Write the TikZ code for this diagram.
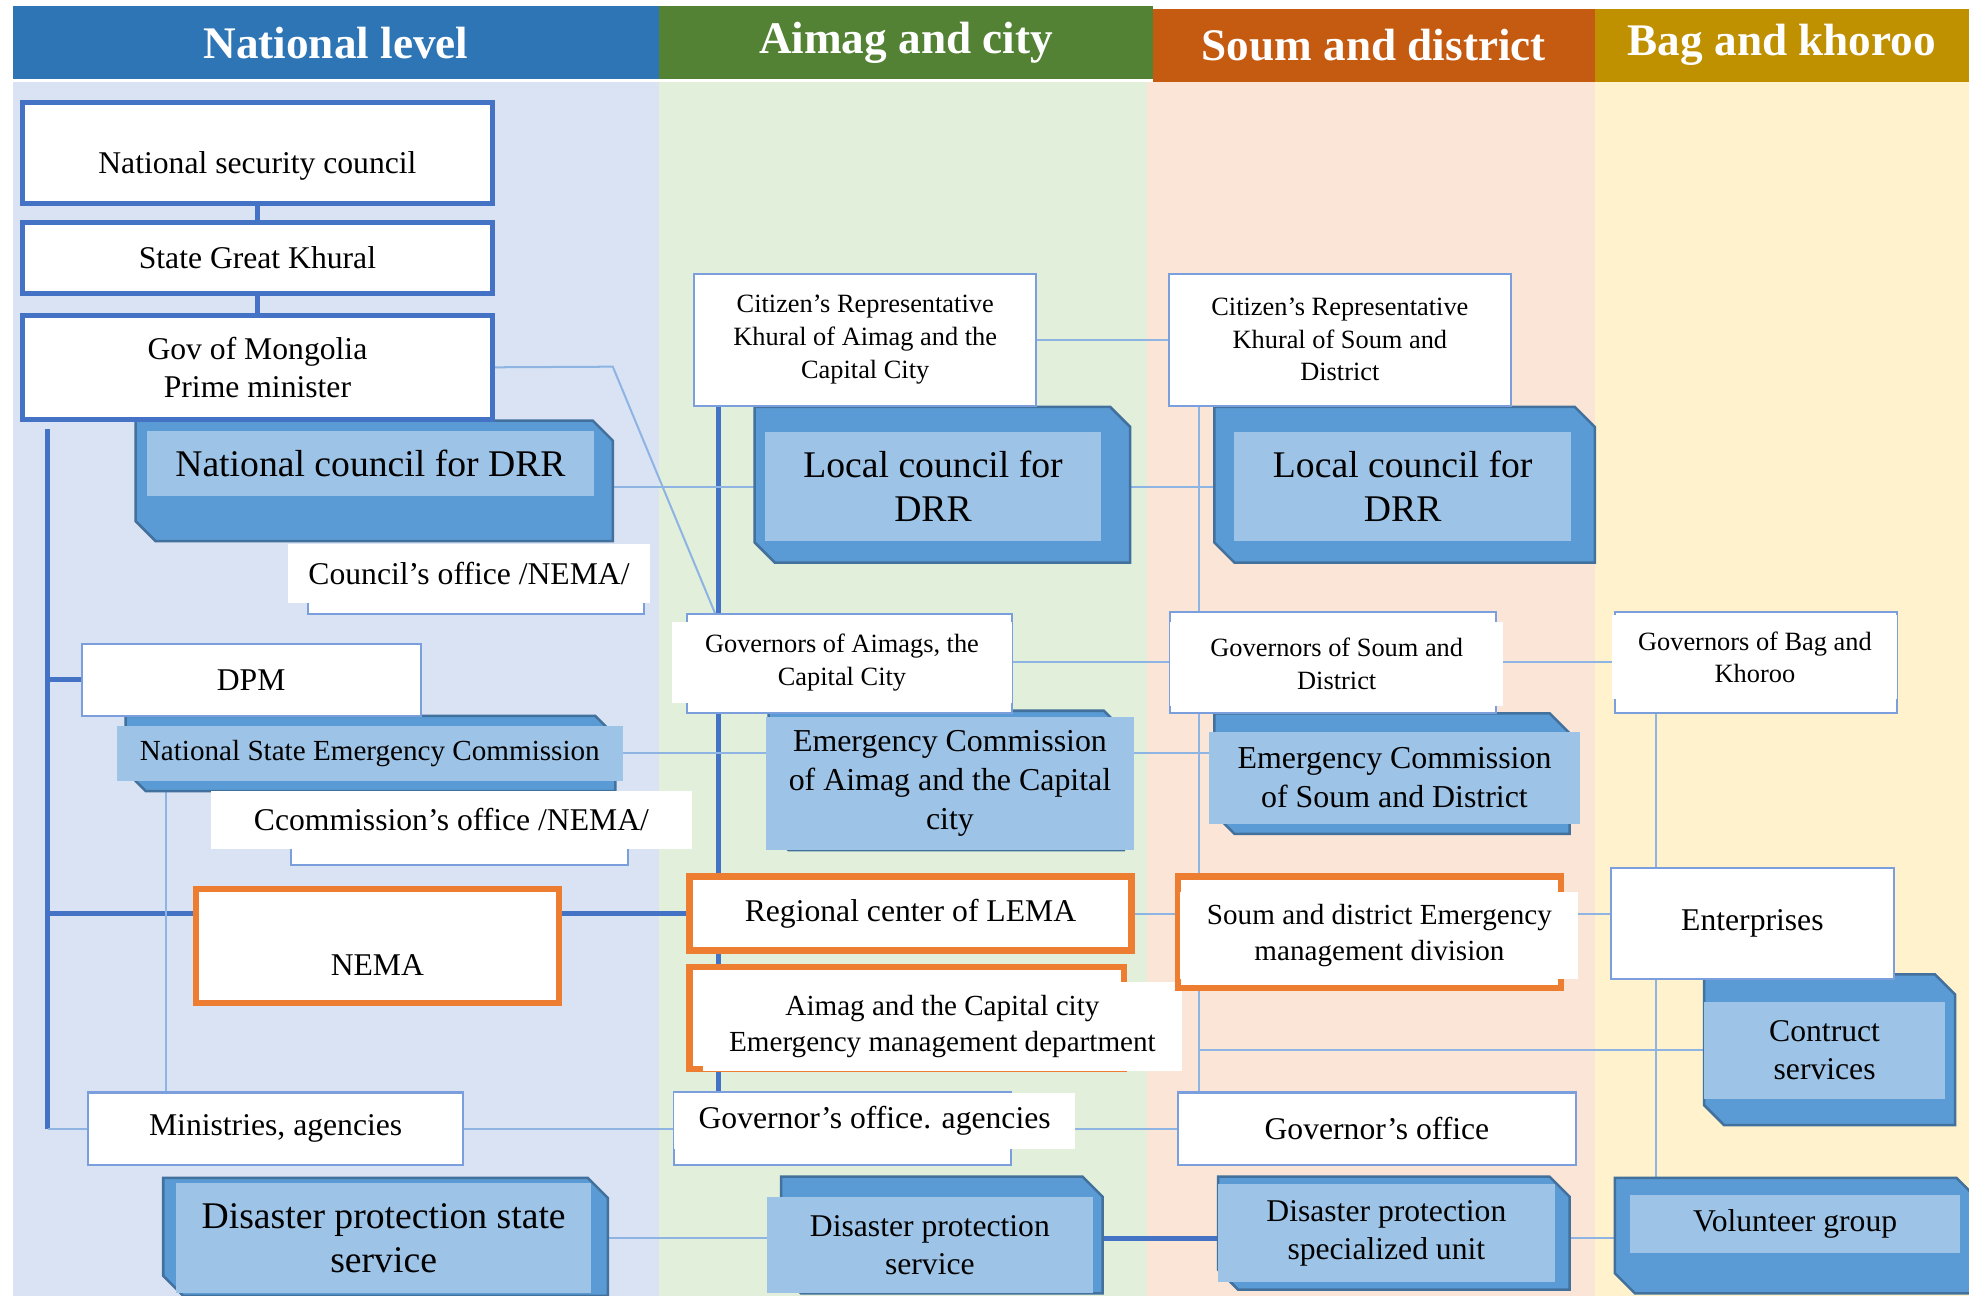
\documentclass[tikz,border=0pt]{standalone}
\usepackage{fontspec}
\setmainfont{Liberation Serif}

\definecolor{hdNat}{HTML}{2E75B6}
\definecolor{hdAim}{HTML}{548235}
\definecolor{hdSou}{HTML}{C55A11}
\definecolor{hdBag}{HTML}{BF9000}
\definecolor{bgNat}{HTML}{DAE3F3}
\definecolor{bgAim}{HTML}{E2EFDA}
\definecolor{bgSou}{HTML}{FBE5D6}
\definecolor{bgBag}{HTML}{FFF2CC}
\definecolor{frameBlue}{HTML}{4472C4}
\definecolor{lineBlue}{HTML}{8EB4E3}
\definecolor{thinFrame}{HTML}{7A9FDC}
\definecolor{orangeFrame}{HTML}{ED7D31}
\definecolor{plateBlue}{HTML}{5B9BD5}
\definecolor{plateEdge}{HTML}{41719C}
\definecolor{innerBlue}{HTML}{9DC3E6}

\newcommand{\fsmall}{\fontsize{10.5}{13}\selectfont}
\newcommand{\fmain}{\fontsize{12.6}{15}\selectfont}
\newcommand{\fmid}{\fontsize{11.6}{14}\selectfont}
\newcommand{\fec}{\fontsize{12.7}{15.5}\selectfont}
\newcommand{\fbig}{\fontsize{15}{17.5}\selectfont}
\newcommand{\fhead}{\fontsize{18}{20}\selectfont\bfseries}

% dark chamfered plate behind a light box
\newcommand{\backplate}[4]{\draw[plate] (#1,#2) -- ({#3-16},#2) -- (#3,{#2+16}) -- (#3,#4) -- ({#1+16},#4) -- (#1,{#4-16}) -- cycle;}

\pgfdeclarelayer{cols}
\pgfdeclarelayer{links}
\pgfsetlayers{cols,links,main}

\tikzset{
  sz/.style 2 args={minimum width={#1*0.5pt},minimum height={#2*0.5pt}},
  hdr/.style={text=white, font=\fhead, inner sep=0pt},
  bigframe/.style={draw=frameBlue, line width=2pt, fill=white, align=center, font=\fmain, inner sep=2pt},
  thinframe/.style={draw=thinFrame, line width=0.8pt, fill=white},
  thinbox/.style={thinframe, align=center, font=\fmain, inner sep=2pt},
  orframe/.style={draw=orangeFrame, line width=2.5pt, fill=white},
  orbox/.style={orframe, align=center, font=\fmain, inner sep=2pt},
  panel/.style={fill=white, align=center, inner sep=2pt},
  plate/.style={fill=plateBlue, draw=plateEdge, line width=1pt},
  lightbox/.style={fill=innerBlue, align=center, inner sep=2pt},
  thk/.style={draw=frameBlue, line width=2pt},
  thn/.style={draw=lineBlue, line width=0.8pt},
}

\begin{document}
\begin{tikzpicture}[x=0.5pt,y=-0.5pt]
  \useasboundingbox (0,0) rectangle (1568,1032);

  % columns and headers
  \begin{pgfonlayer}{cols}
    \fill[bgNat] (10,65) rectangle (525,1032);
    \fill[bgAim] (525,65) rectangle (913,1032);
    \fill[bgSou] (913,65) rectangle (1270,1032);
    \fill[bgBag] (1270,65) rectangle (1568,1032);
    \node[hdr, fill=hdNat, sz={515}{58}] (hnat) at (267.5,34) {National level};
    \node[hdr, fill=hdAim, sz={393}{58}] (haim) at (721.5,34) {Aimag and city};
    \node[hdr, fill=hdSou, sz={352}{58}] (hsou) at (1094,36) {Soum and district};
    \node[hdr, fill=hdBag, sz={298}{58}] (hbag) at (1419,36) {Bag and khoroo};
  \end{pgfonlayer}

  % plates
  \backplate{108}{335}{488}{431}
  \backplate{100}{570}{490}{630}
  \backplate{130}{938}{484}{1032}
  \backplate{601}{324}{900}{448}
  \backplate{612}{566}{895}{677}
  \backplate{622}{937}{878}{1030}
  \backplate{967}{324}{1270}{448}
  \backplate{967}{568}{1250}{664}
  \backplate{970}{937}{1250}{1027}
  \backplate{1357}{776}{1557}{896}
  \backplate{1286}{938}{1574}{1030}

  % national level
  \node[bigframe, sz={374}{80}, text height=18.7pt] (nsc) at (205,122) {National security council};
  \node[bigframe, sz={374}{57}] (sgk) at (205,205.5) {State Great Khural};
  \node[bigframe, sz={374}{83}] (gov) at (205,292.5) {Gov of Mongolia\\Prime minister};
  \node[lightbox, font=\fbig, sz={356}{52}] (ncd) at (295,369) {National council for DRR};
  \draw[thinframe] (245,435) rectangle (513,489);
  \node[panel, font=\fmain, sz={289}{47}] (coff) at (373.5,456.5) {Council's office /NEMA/};
  \node[thinbox, sz={270}{57}] (dpm) at (200,541.5) {DPM};
  \node[lightbox, font=\fmid, sz={403}{44}] (nsec) at (294.5,600) {National State Emergency Commission};
  \draw[thinframe] (232,650) rectangle (500,689);
  \node[panel, font=\fmain, sz={383}{46}] (cmoff) at (359.5,653) {Ccommission's office /NEMA/};
  \node[orbox, sz={289}{91}, text height=23.7pt] (nema) at (300.5,753.5) {NEMA};
  \node[thinbox, sz={299}{58}] (min) at (219.5,899) {Ministries, agencies};
  \node[lightbox, font=\fbig, sz={331}{88}] (dpss) at (305.5,986) {Disaster protection state\\service};

  % aimag and city
  \node[thinbox, font=\fsmall, sz={272}{105}] (cra) at (689,270.5) {Citizen's Representative\\Khural of Aimag and the\\Capital City};
  \node[lightbox, font=\fbig, sz={268}{87}] (lca) at (743,387.5) {Local council for\\DRR};
  \draw[thinframe] (547,489) rectangle (806,568);
  \node[panel, font=\fsmall, sz={271}{65}] (gva) at (670.5,527.5) {Governors of Aimags, the\\Capital City};
  \node[lightbox, font=\fec, sz={293}{106}] (eca) at (756.5,624) {Emergency Commission\\of Aimag and the Capital\\city};
  \node[orbox, sz={352}{59}] (rcl) at (725,727.5) {Regional center of LEMA};
  \draw[orframe] (549,770) rectangle (895,851);
  \node[panel, font=\fmid, sz={381}{71}] (emd) at (750.5,817.5) {Aimag and the Capital city\\Emergency management department};
  \draw[thinframe] (537,870) rectangle (805,928);
  \node[panel, font=\fmain, sz={319}{45}] (goa) at (696.5,892.5) {Governor's office. agencies};
  \node[lightbox, font=\fmain, sz={259}{77}] (dps) at (740.5,991.5) {Disaster protection\\service};

  % soum and district
  \node[thinbox, font=\fsmall, sz={272}{105}] (crs) at (1067,270.5) {Citizen's Representative\\Khural of Soum and\\District};
  \node[lightbox, font=\fbig, sz={268}{87}] (lcs) at (1117,387.5) {Local council for\\DRR};
  \draw[thinframe] (932,487) rectangle (1191,568);
  \node[panel, font=\fsmall, sz={265}{67}] (gvs) at (1064.5,528.5) {Governors of Soum and\\District};
  \node[lightbox, font=\fec, sz={295}{73}] (ecs) at (1110.5,619.5) {Emergency Commission\\of Soum and District};
  \draw[orframe] (938,698) rectangle (1243,787);
  \node[panel, font=\fmid, sz={317}{70}] (sdd) at (1098.5,745) {Soum and district Emergency\\management division};
  \node[thinbox, sz={317}{58}] (gof) at (1096.5,899) {Governor's office};
  \node[lightbox, font=\fmain, sz={268}{78}] (dpu) at (1104,982) {Disaster protection\\specialized unit};

  % bag and khoroo
  \draw[thinframe] (1286,487) rectangle (1511,568);
  \node[panel, font=\fsmall, sz={227}{67}] (gvb) at (1397.5,523.5) {Governors of Bag and\\Khoroo};
  \node[lightbox, font=\fmain, sz={192}{77}] (cns) at (1453,836.5) {Contruct\\services};
  \node[thinbox, sz={225}{89}] (ent) at (1395.5,735.5) {Enterprises};
  \node[lightbox, font=\fmain, sz={263}{46}] (vol) at (1429.5,975) {Volunteer group};

  \coordinate (nspine) at (38,342);
  \coordinate (aspine) at (572,323);
  \coordinate (sspine) at (955,323);
  \coordinate (bspine) at (1319,568);
  \coordinate (gbend) at (488,292);
  \coordinate (nsecleg) at (132,622);

  % connectors
  \begin{pgfonlayer}{links}
    \draw[thk] (nsc.south) -- (sgk.north);
    \draw[thk] (sgk.south) -- (gov.north);
    \draw[thk] (nspine) -- (nspine |- min.west);
    \draw[thk] (nspine |- dpm.west) -- (dpm.west);
    \draw[thk] (nspine |- rcl.west) -- (rcl.west);
    \draw[thn] (nspine |- min.west) -- (min.west);
    \draw[thn] (nsecleg) -- (nsecleg |- min.north);
    \draw[thn] (min.east) -- (gof.west);
    \draw[thn] (gov.east) -- (gbend) -- (aspine |- gva.north);
    \draw[thk] (aspine) -- (aspine |- goa.north);
    \draw[thn] (ncd.east |- lca.west) -- (lcs.west);
    \draw[thn] (nsec.east) -- (nsec.east -| ecs.west);
    \draw[thn] (cra.east) -- (crs.west);
    \draw[thn] (gva.east) -- (gva.east -| gvb.west);
    \draw[thn] (rcl.east) -- (rcl.east -| ent.west);
    \draw[thn] (sspine) -- (sspine |- gof.north);
    \draw[thn] (sspine |- cns.west) -- (cns.west);
    \draw[thn] (bspine) -- (bspine |- vol.north);
    \draw[thn] (dpss.east) -- (dpss.east -| dps.west);
    \draw[thk] (dps.east |- dpss.east) -- (dpss.east -| dpu.west);
    \draw[thn] (dpu.east |- dpss.east) -- (dpss.east -| vol.west);
  \end{pgfonlayer}
\end{tikzpicture}
\end{document}
